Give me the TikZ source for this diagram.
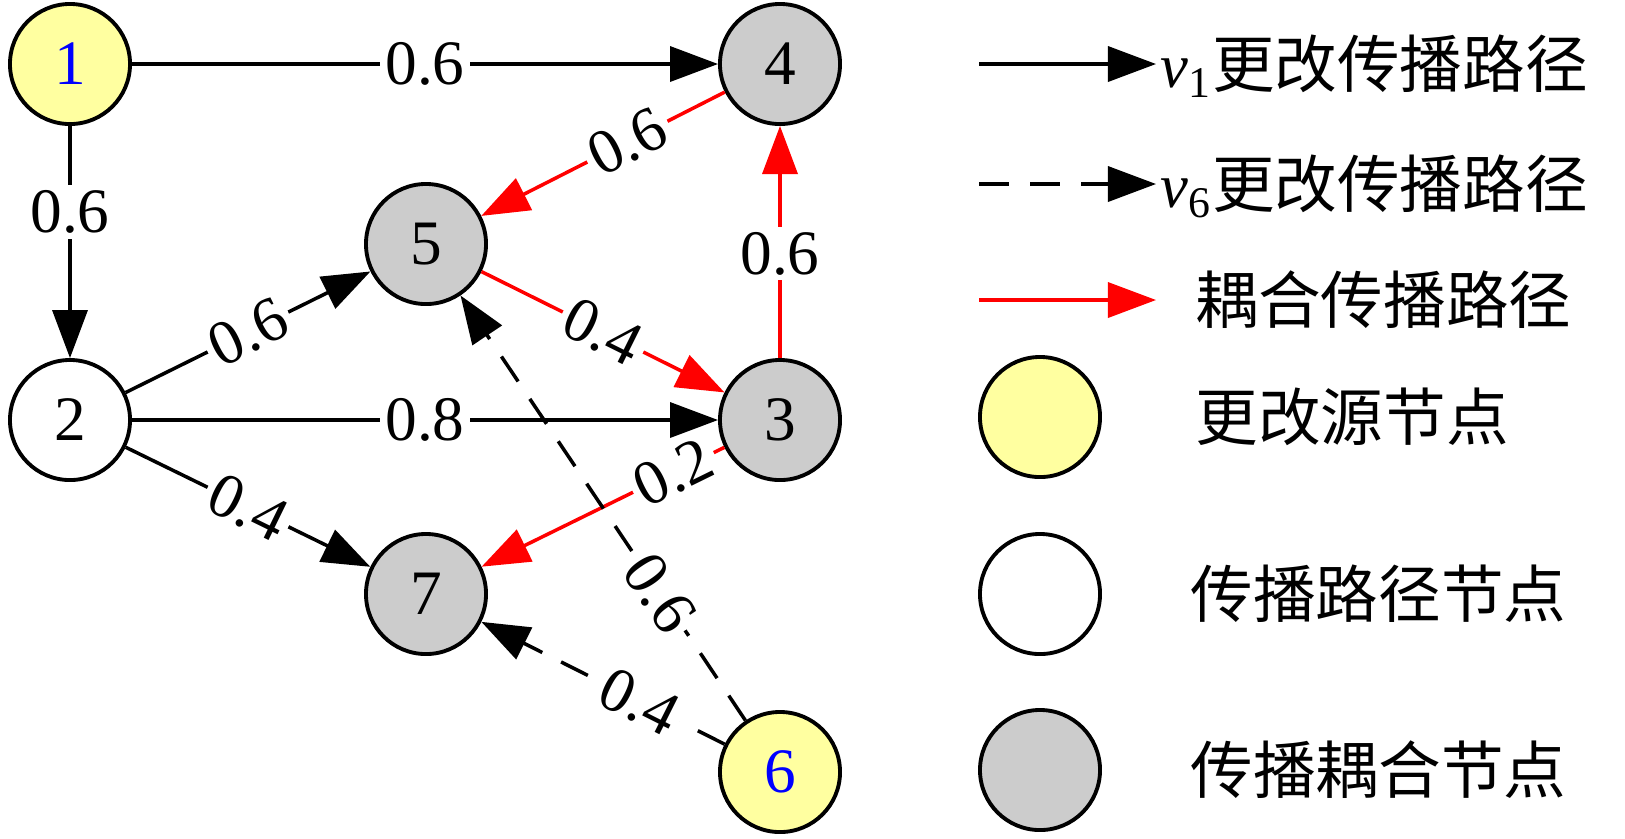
\documentclass[tikz,border=0pt]{standalone}
\usepackage{fontspec}
\setmainfont{Liberation Serif}
\newfontfamily\cjk{Noto Sans CJK SC}
\usepackage{tikz}
\usetikzlibrary{arrows.meta}
\definecolor{srcyellow}{RGB}{255, 255, 160}
\definecolor{cplgray}{RGB}{204, 204, 204}
\definecolor{numblue}{RGB}{0, 0, 255}

\begin{document}
\begin{tikzpicture}[x=0.01cm, y=-0.01cm,
				vtx/.style={circle, draw=black, line width=1.1pt, minimum size=1.2cm, inner sep=0pt, font=\fontsize{18}{20}\selectfont},
				srcvtx/.style={vtx, fill=srcyellow, text=numblue},
				pathvtx/.style={vtx, fill=white},
				cplvtx/.style={vtx, fill=cplgray},
				arrow/.style={-{Triangle[length=0.48cm, width=0.35cm]}, line width=1pt, draw=black},
				darrow/.style={arrow, dash pattern=on 0.3cm off 0.21cm},
				rarrow/.style={arrow, draw=red},
				wlab/.style={fill=white, inner sep=1.5pt, font=\fontsize{18}{20}\selectfont},
				legtxt/.style={anchor=west, inner sep=0pt, text height=15.8pt, text depth=2.2pt, font=\fontsize{17.8}{20}\selectfont}
				]
				\useasboundingbox (0, 0) rectangle (1625, 838);
				
				% Source nodes
				\node[srcvtx] (n1) at (70, 64) {1};
				\node[srcvtx] (n6) at (780, 772) {6};
				
				% Path node
				\node[pathvtx] (n2) at (70, 420) {2};
				
				% Coupling nodes
				\node[cplvtx] (n4) at (780, 64) {4};
				\node[cplvtx] (n5) at (426, 244) {5};
				\node[cplvtx] (n3) at (780, 420) {3};
				\node[cplvtx] (n7) at (426, 594) {7};
				
				% v1 change paths
				\draw[arrow] (n1) -- node[wlab] {0.6} (n4);
				\draw[arrow] (n1) -- node[wlab, pos=0.37] {0.6} (n2);
				\draw[arrow] (n2) -- node[wlab, sloped] {0.6} (n5);
				\draw[arrow] (n2) -- node[wlab] {0.8} (n3);
				\draw[arrow] (n2) -- node[wlab, sloped] {0.4} (n7);
				
				% Coupling paths
				\draw[rarrow] (n5) -- node[wlab, sloped] {0.4} (n3);
				\draw[rarrow] (n3) -- node[wlab, pos=0.45] {0.6} (n4);
				\draw[rarrow] (n4) -- node[wlab, sloped, pos=0.40] {0.6} (n5);
				\draw[rarrow] (n3) -- node[wlab, sloped, pos=0.21] {0.2} (n7);
				
				% v6 change paths
				\draw[darrow] (n6) -- node[wlab, sloped, pos=0.30] {0.6} (n5);
				\draw[darrow] (n6) -- node[wlab, sloped, pos=0.35] {0.4} (n7);
				
				% Legend
				\coordinate (la1) at (979, 64);
				\coordinate (lb1) at (1156, 64);
				\coordinate (la2) at (979, 184);
				\coordinate (lb2) at (1156, 184);
				\coordinate (la3) at (979, 300);
				\coordinate (lb3) at (1156, 300);
				\draw[arrow] (la1) -- (lb1);
				\draw[darrow] (la2) -- (lb2);
				\draw[rarrow] (la3) -- (lb3);
				\node[legtxt] (t1) at (1160, 64) {\textit{v}\textsubscript{1}{\cjk 更改传播路径}};
				\node[legtxt] (t2) at (1160, 184) {\textit{v}\textsubscript{6}{\cjk 更改传播路径}};
				\node[legtxt] (t3) at (1195, 300) {\cjk 耦合传播路径};
				
				\node[srcvtx] (k1) at (1040, 417) {};
				\node[pathvtx] (k2) at (1040, 594) {};
				\node[cplvtx] (k3) at (1040, 770) {};
				\node[legtxt] (t4) at (1195, 417) {\cjk 更改源节点};
				\node[legtxt] (t5) at (1190, 594) {\cjk 传播路径节点};
				\node[legtxt] (t6) at (1190, 770) {\cjk 传播耦合节点};
			\end{tikzpicture}
\end{document}
